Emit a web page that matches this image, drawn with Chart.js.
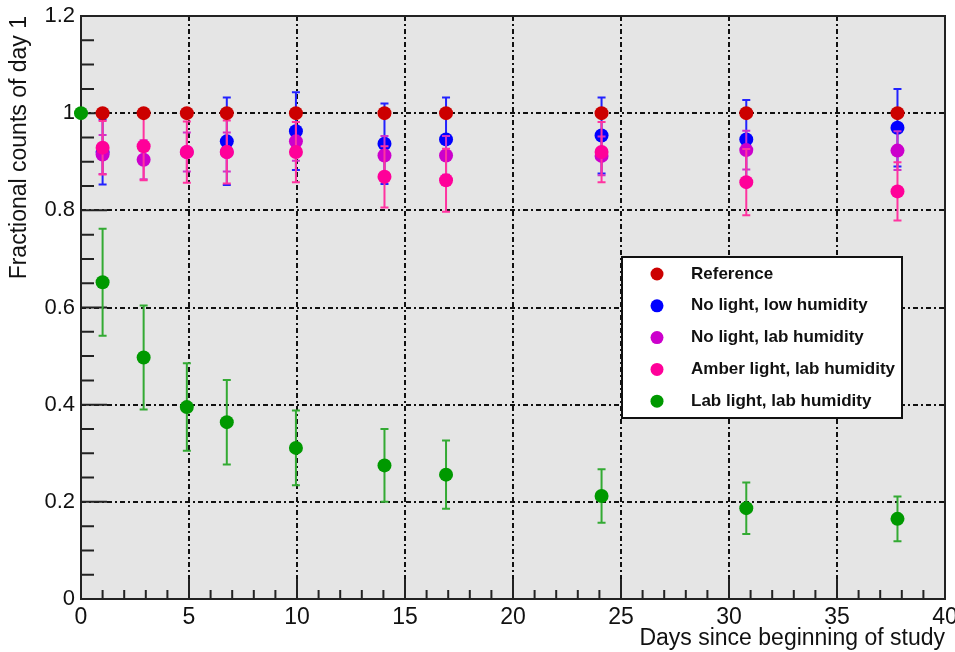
<!DOCTYPE html>
<html>
<head>
<meta charset="utf-8">
<script src="https://cdn.jsdelivr.net/npm/chart.js@4/dist/chart.umd.min.js"></script>
<style>
  html, body { margin: 0; padding: 0; background: #fff; }
  canvas { display: block; }
</style>
</head>
<body>
<canvas id="chart" width="955" height="652"></canvas>
<script>
// days of each measurement
const days = [1, 2.9, 4.9, 6.75, 9.95, 14.05, 16.9, 24.1, 30.8, 37.8];
const labDays = [0, 1, 2.9, 4.9, 6.75, 9.95, 14.05, 16.9, 24.1, 30.8, 37.8];

const reference = [1, 1, 1, 1, 1, 1, 1, 1, 1, 1];
const noLightLow = [0.92, null, null, 0.942, 0.963, 0.937, 0.946, 0.954, 0.946, 0.97];
const noLightLowErr = [0.067, 0, 0, 0.09, 0.08, 0.083, 0.086, 0.078, 0.081, 0.08];
const noLightLab = [0.915, 0.904, 0.92, 0.92, 0.942, 0.913, 0.913, 0.912, 0.924, 0.923];
const noLightLabErr = [0.04, 0.04, 0.04, 0.04, 0.04, 0.04, 0.04, 0.04, 0.04, 0.04];
const amberLab = [0.929, 0.932, 0.92, 0.92, 0.92, 0.869, 0.862, 0.92, 0.858, 0.839];
const amberLabErr = [0.055, 0.07, 0.063, 0.065, 0.062, 0.063, 0.065, 0.062, 0.068, 0.06];
const labLight = [1, 0.652, 0.497, 0.395, 0.364, 0.311, 0.275, 0.256, 0.212, 0.187, 0.165];
const labLightErr = [0, 0.11, 0.107, 0.09, 0.087, 0.077, 0.075, 0.07, 0.055, 0.053, 0.046];

const xTicks = [0, 5, 10, 15, 20, 25, 30, 35, 40];
const yTicks = [0, 0.2, 0.4, 0.6, 0.8, 1, 1.2];

const FONT = '"Liberation Sans", Arial, sans-serif';

function series(label, xs, ys, errs, color, errColor, order) {
  return {
    type: 'scatter',
    label: label,
    data: xs.map((x, i) => ({ x: x, y: ys[i] })),
    err: errs,
    errColor: errColor,
    backgroundColor: color,
    borderWidth: 0,
    pointRadius: 7,
    pointHoverRadius: 7,
    clip: false,
    order: order,
  };
}

const datasets = [
  series('Reference', days, reference, null, '#cc0000', '#cc0000', 0),
  series('No light, low humidity', days, noLightLow, noLightLowErr, '#0000ff', '#2222ff', 3),
  series('No light, lab humidity', days, noLightLab, noLightLabErr, '#cc00cc', '#cc33cc', 2),
  series('Amber light, lab humidity', days, amberLab, amberLabErr, '#ff0099', '#ff33a0', 1),
  series('Lab light, lab humidity', labDays, labLight, labLightErr, '#009900', '#33aa33', 0),
];

// grey frame background
const frameBg = {
  id: 'frameBg',
  beforeDraw(chart) {
    const { ctx, chartArea: a } = chart;
    ctx.save();
    ctx.fillStyle = '#e5e5e5';
    ctx.fillRect(a.left, a.top, a.right - a.left, a.bottom - a.top);
    ctx.restore();
  }
};

// ROOT style ticks drawn inward, plus frame
const innerTicks = {
  id: 'innerTicks',
  beforeDatasetsDraw(chart) {
    const { ctx, chartArea: a, scales } = chart;
    ctx.save();
    ctx.strokeStyle = '#222';
    ctx.lineWidth = 2;
    ctx.beginPath();
    for (let v = 0; v <= 40.001; v += 1) {
      const px = scales.x.getPixelForValue(v);
      const len = Math.abs(v % 5) < 0.01 ? 20 : 9;
      ctx.moveTo(px, a.bottom);
      ctx.lineTo(px, a.bottom - len);
    }
    for (let v = 0; v <= 1.2001; v += 0.05) {
      const py = scales.y.getPixelForValue(v);
      const major = Math.abs(Math.round(v / 0.2) * 0.2 - v) < 0.001;
      ctx.moveTo(a.left, py);
      ctx.lineTo(a.left + (major ? 26 : 13), py);
    }
    ctx.stroke();
    ctx.strokeRect(a.left, a.top, a.right - a.left, a.bottom - a.top);
    ctx.restore();
  }
};

const errorBars = {
  id: 'errorBars',
  beforeDatasetDraw(chart, args) {
    const ds = chart.data.datasets[args.index];
    if (!ds.err) return;
    const { ctx, scales } = chart;
    ctx.save();
    ctx.strokeStyle = ds.errColor;
    ctx.lineWidth = 2;
    ctx.beginPath();
    ds.data.forEach((p, i) => {
      const e = ds.err[i];
      if (p.y == null || !e) return;
      const px = scales.x.getPixelForValue(p.x);
      const top = scales.y.getPixelForValue(p.y + e);
      const bot = scales.y.getPixelForValue(p.y - e);
      ctx.moveTo(px, top); ctx.lineTo(px, bot);
      ctx.moveTo(px - 4, top); ctx.lineTo(px + 4, top);
      ctx.moveTo(px - 4, bot); ctx.lineTo(px + 4, bot);
    });
    ctx.stroke();
    ctx.restore();
  }
};

// boxed legend inside the plot
const boxLegend = {
  id: 'boxLegend',
  afterDraw(chart) {
    const { ctx } = chart;
    const box = { x: 622, y: 257, w: 280, h: 161 };
    ctx.save();
    ctx.fillStyle = '#fff';
    ctx.fillRect(box.x, box.y, box.w, box.h);
    ctx.strokeStyle = '#111';
    ctx.lineWidth = 2;
    ctx.strokeRect(box.x, box.y, box.w, box.h);
    ctx.font = 'bold 17px ' + FONT;
    ctx.textBaseline = 'middle';
    chart.data.datasets.forEach((ds, i) => {
      const cy = box.y + 17 + i * 31.8;
      ctx.fillStyle = ds.backgroundColor;
      ctx.beginPath();
      ctx.arc(box.x + 35, cy, 6.5, 0, Math.PI * 2);
      ctx.fill();
      ctx.fillStyle = '#111';
      ctx.fillText(ds.label, box.x + 69, cy);
    });
    ctx.restore();
  }
};

new Chart(document.getElementById('chart'), {
  type: 'scatter',
  data: { datasets: datasets },
  options: {
    responsive: false,
    animation: false,
    layout: { padding: { top: 16, right: 10, left: 0, bottom: 0 } },
    plugins: {
      legend: { display: false },
      tooltip: { enabled: false },
    },
    scales: {
      x: {
        type: 'linear',
        min: 0,
        max: 40,
        afterBuildTicks: (scale) => { scale.ticks = xTicks.map(v => ({ value: v })); },
        afterFit: (scale) => {
          scale.height = 53;
          scale.paddingLeft = 0;
          scale.paddingRight = 0;
        },
        grid: { color: '#111', lineWidth: 2, drawTicks: false },
        border: { display: false, dash: [5, 3, 2, 3] },
        ticks: {
          padding: 5,
          color: '#111',
          font: { family: FONT, size: 23 },
          maxRotation: 0,
          autoSkip: false,
        },
        title: {
          display: true,
          text: 'Days since beginning of study',
          align: 'end',
          color: '#111',
          font: { family: FONT, size: 23 },
          padding: { top: 0, bottom: 0 },
        },
      },
      y: {
        type: 'linear',
        min: 0,
        max: 1.2,
        afterBuildTicks: (scale) => { scale.ticks = yTicks.map(v => ({ value: v })); },
        afterFit: (scale) => {
          scale.width = 81;
          scale.paddingTop = 0;
          scale.paddingBottom = 0;
        },
        grid: { color: '#111', lineWidth: 2, drawTicks: false },
        border: { display: false, dash: [5, 3, 2, 3] },
        ticks: {
          padding: 6,
          color: '#111',
          font: { family: FONT, size: 22 },
          callback: (v) => String(Math.round(v * 10) / 10),
        },
        title: {
          display: true,
          text: 'Fractional counts of day 1',
          align: 'end',
          color: '#111',
          font: { family: FONT, size: 23 },
          padding: { top: 6, bottom: 0 },
        },
      },
    },
  },
  plugins: [frameBg, innerTicks, errorBars, boxLegend],
});
</script>
</body>
</html>
